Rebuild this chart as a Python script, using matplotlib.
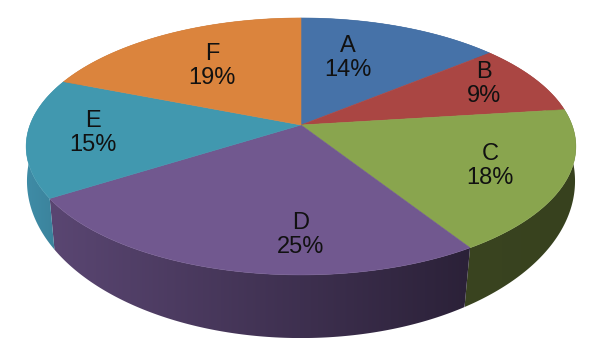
# pie 3D con perspectiva
import numpy as np
import matplotlib
matplotlib.use('Agg')
import matplotlib.pyplot as plt
from matplotlib.colors import to_rgb
from matplotlib.patches import Polygon

plt.rcParams['font.family'] = ['Liberation Sans', 'DejaVu Sans']

categorias = ['A', 'B', 'C', 'D', 'E', 'F']
valores = [14, 9, 18, 25, 15, 19]
colores = ['#4672A8', '#AA4643', '#89A54E', '#71588F', '#4198AF', '#DB843D']
# color del lateral, en el extremo izquierdo y derecho de cada porcion
lateral_ini = ['#34557E', '#7F3432', '#3A4420', '#5A4672', '#3F8CA6', '#A36230']
lateral_fin = ['#34557E', '#7F3432', '#37411E', '#2B2138', '#3A8099', '#A36230']

# posicion de las etiquetas, en pixeles
x_etiqueta = [348, 484, 490, 301, 93, 212]
y_etiqueta = [58, 84, 166, 235, 133, 66]


def proyectar(theta, cy, R, S, k):
    a, b = np.sin(theta), np.cos(theta)
    w = 1 + k * b
    return 301 + R * a / w, cy - S * b / w


def cara(theta):
    return proyectar(theta, 125, 271, 124.9, 0.167)


def base(theta):
    return proyectar(theta, 160.6, 271.7, 154.4, 0.13)


fig = plt.figure(figsize=(6, 3.52), dpi=100)
ax = fig.add_axes([0, 0, 1, 1])

cortes = 2 * np.pi * np.cumsum([0] + valores) / sum(valores)

# laterales primero, degradado horizontal recortado a cada porcion
for i in range(len(valores)):
    th = np.linspace(cortes[i], cortes[i + 1], 120)
    x0, y0 = cara(th)
    x1, y1 = base(th)
    xs = np.r_[x0, x1[::-1]]
    ys = np.r_[y0, y1[::-1]]
    c0 = np.array(to_rgb(lateral_ini[i]))
    c1 = np.array(to_rgb(lateral_fin[i]))
    t = np.linspace(0, 1, 256)[None, :, None]
    grad = c0[None, None, :] + (c1 - c0)[None, None, :] * t
    im = ax.imshow(grad, extent=[xs.min(), xs.max(), ys.max(), ys.min()], aspect='auto', zorder=1)
    im.set_clip_path(Polygon(np.c_[xs, ys], closed=True, transform=ax.transData))

ax.set_xlim(0, 600)
ax.set_ylim(352, 0)
ax.axis('off')

# cara superior
for i in range(len(valores)):
    th = np.linspace(cortes[i], cortes[i + 1], 120)
    x, y = cara(th)
    puntos = [(301, 125)] + list(zip(x, y))
    ax.add_patch(Polygon(puntos, closed=True, facecolor=colores[i], edgecolor=colores[i], linewidth=0.4, zorder=2))

for i in range(len(valores)):
    ax.text(x_etiqueta[i], y_etiqueta[i], f'{categorias[i]}\n{valores[i]}%', ha='center', va='center',
            fontsize=17, color='#111111', linespacing=1.17, zorder=3)

fig.savefig('out.png', dpi=100)
